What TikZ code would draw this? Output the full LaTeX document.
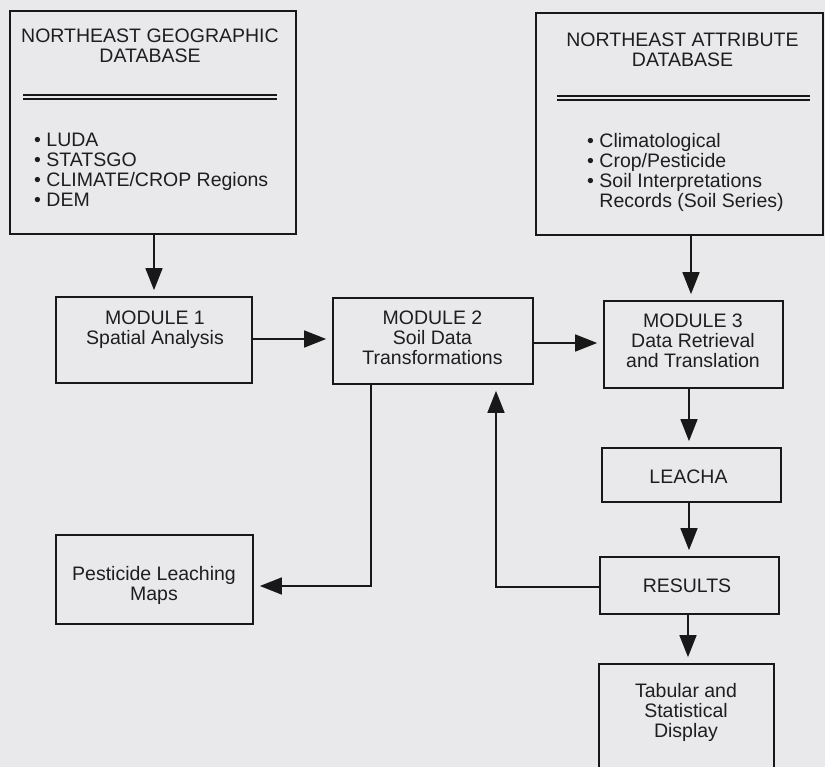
\documentclass[tikz,border=0pt]{standalone}
\usepackage{fontspec}
\setmainfont{Liberation Sans}
\usetikzlibrary{arrows.meta,calc}
\definecolor{bgc}{RGB}{233,233,236}
\definecolor{inkc}{RGB}{24,24,24}
\definecolor{txtc}{RGB}{30,30,30}
\tikzset{
  box/.style={draw=inkc, line width=1.7pt, rectangle, inner sep=0pt},
  txt/.style={text=txtc, align=center, inner sep=0pt, font=\fontsize{19.5}{20}\selectfont},
  listtxt/.style={text=txtc, align=left, inner sep=0pt, font=\fontsize{19.5}{20}\selectfont},
  arr/.style={draw=inkc, line width=1.5pt, -{Triangle[length=22pt,width=17pt]}, shorten >=6pt},
  rule/.style={draw=inkc, line width=1.1pt}
}
\begin{document}
\begin{tikzpicture}[x=1pt,y=-1pt]
\useasboundingbox (0,0) rectangle (825,767);
\clip (0,0) rectangle (825,767);
\fill[bgc] (0,0) rectangle (825,767);

% database boxes
\node[box, minimum width=286pt, minimum height=223pt] (geo) at (153,122.5) {};
\node[txt] (geot) at (150,45.5) {NORTHEAST GEOGRAPHIC\\DATABASE};
\draw[rule] (23,95) -- (277,95);
\draw[rule] (23,99) -- (277,99);
\node[listtxt, anchor=base west] (geol) at (34,207) {• LUDA\\• STATSGO\\• CLIMATE/CROP Regions\\• DEM};

\node[box, minimum width=287pt, minimum height=222pt] (attr) at (679.5,124) {};
\node[txt] (attrt) at (682.5,49.5) {NORTHEAST ATTRIBUTE\\DATABASE};
\draw[rule] (557,96) -- (810,96);
\draw[rule] (557,100) -- (810,100);
\node[listtxt, anchor=base west] (attrl) at (587,208) {• Climatological\\• Crop/Pesticide\\• Soil Interpretations\\\phantom{• }Records (Soil Series)};

% modules
\node[box, minimum width=196pt, minimum height=86pt] (m1) at (154,340) {};
\node[txt] (m1t) at (155,329.5) {MODULE 1\\Spatial Analysis};
\node[box, minimum width=200pt, minimum height=86pt] (m2) at (433,341) {};
\node[txt] (m2t) at (432.5,337.5) {MODULE 2\\Soil Data\\Transformations};
\node[box, minimum width=179pt, minimum height=87pt] (m3) at (693.5,344.5) {};
\node[txt] (m3t) at (693,341) {MODULE 3\\Data Retrieval\\and Translation};

\node[box, minimum width=179pt, minimum height=54pt] (leacha) at (691.5,475) {};
\node[txt] (leachat) at (688.5,476.5) {LEACHA};
\node[box, minimum width=179pt, minimum height=57pt] (results) at (689.5,585.5) {};
\node[txt] (resultst) at (687,585.5) {RESULTS};
\node[box, minimum width=175pt, minimum height=140pt] (tab) at (686.5,734) {};
\node[txt] (tabt) at (686,712.5) {Tabular and\\Statistical\\Display};
\node[box, minimum width=197pt, minimum height=89pt] (pest) at (154.5,579.5) {};
\node[txt] (pestt) at (154,585.5) {Pesticide Leaching\\Maps};

% connectors
\draw[arr] (geo.south -| m1.north) -- (m1.north);
\draw[arr] (attr.south -| 691,0) -- (m3.north -| 691,0);
\draw[arr] (m1.east |- 0,339) -- (m2.west |- 0,339);
\draw[arr] (m2.east |- 0,343) -- (m3.west |- 0,343);
\draw[arr] (m3.south -| 689,0) -- (leacha.north -| 689,0);
\draw[arr] (leacha.south -| 689,0) -- (results.north -| 689,0);
\draw[arr] (results.south -| 688,0) -- (tab.north -| 688,0);
\draw[arr] (m2.south -| 371,0) |- (pest.east |- 0,586);
\draw[arr] (results.west |- 0,587) -| (m2.south -| 496,0);
\end{tikzpicture}
\end{document}
